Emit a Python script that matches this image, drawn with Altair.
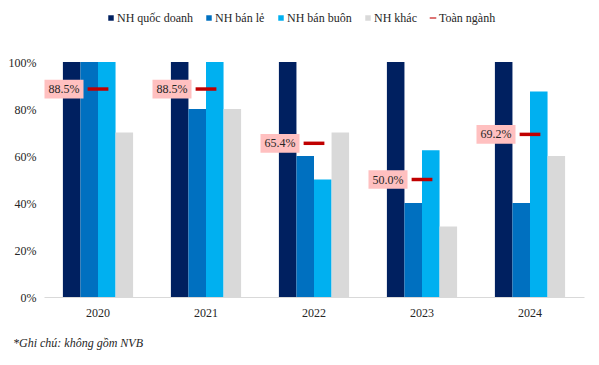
import altair as alt
import pandas as pd

years = ["2020", "2021", "2022", "2023", "2024"]
series = ["NH quốc doanh", "NH bán lẻ", "NH bán buôn", "NH khác"]
qd = [100, 100, 100, 100, 100]
bl = [100, 80, 60, 40, 40]
bb = [100, 100, 50, 62.5, 87.5]
khac = [70, 80, 70, 30, 60]
nganh = [88.5, 88.5, 65.4, 50.0, 69.2]
nganh_name = "Toàn ngành"
note = "*Ghi chú: không gồm NVB"

colors = ["#002060", "#0070C0", "#00B0F0", "#D9D9D9", "#C00000"]
all_series = series + [nganh_name]
line_path = "M-1.2,-0.2L1.2,-0.2L1.2,0.2L-1.2,0.2Z"
box_path = "M-1,-0.48L1,-0.48L1,0.48L-1,0.48Z"
FONT = "Liberation Serif"

rows = []
for name, vals in zip(series, [qd, bl, bb, khac]):
    for y, v in zip(years, vals):
        rows.append({"Year": y, "Series": name, "Value": v / 100})
bars_df = pd.DataFrame(rows)
line_df = pd.DataFrame({"Year": years, "Series": nganh_name,
                        "Value": [v / 100 for v in nganh],
                        "Label": [f"{v:.1f}%" for v in nganh]})

x_enc = alt.X("Year:N", sort=years, title=None,
              scale=alt.Scale(paddingInner=0.35, paddingOuter=0.175),
              axis=alt.Axis(labelAngle=0, domainColor="#D9D9D9", ticks=False,
                            labelPadding=10))
y_enc = alt.Y("Value:Q", title=None,
              scale=alt.Scale(domain=[0, 1], nice=False),
              axis=alt.Axis(format=".0%", values=[0, 0.2, 0.4, 0.6, 0.8, 1.0],
                            grid=False, domain=False, ticks=False, labelPadding=8))

color_scale = alt.Scale(domain=all_series, range=colors)
legend = alt.Legend(title=None, orient="none", direction="horizontal",
                    legendX=61, legendY=-50,
                    symbolSize=30, symbolStrokeWidth=0, columnPadding=10,
                    symbolOffset=0, labelOffset=0, labelFontSize=12,
                    labelFont=FONT, labelColor="#262626")

bars = alt.Chart(bars_df).mark_bar().encode(
    x=x_enc,
    xOffset=alt.XOffset("Series:N", sort=series,
                        scale=alt.Scale(domain=series, paddingInner=0, paddingOuter=0)),
    y=y_enc,
    color=alt.Color("Series:N", scale=color_scale, legend=legend),
)

marker = alt.Chart(line_df).mark_point(filled=True, size=300, opacity=1).encode(
    x=x_enc,
    y=y_enc,
    color=alt.Color("Series:N", scale=color_scale, legend=legend),
    shape=alt.Shape("Series:N",
                    scale=alt.Scale(domain=all_series,
                                    range=["square"] * 4 + [line_path]),
                    legend=legend),
)

box = alt.Chart(line_df).mark_point(filled=True, size=1521, opacity=1,
                                    shape=box_path, color="#FFC0C0",
                                    xOffset=-34).encode(x=x_enc, y=y_enc)

text = alt.Chart(line_df).mark_text(font=FONT, fontSize=12, color="#262626",
                                    xOffset=-34).encode(
    x=x_enc, y=y_enc, text="Label:N")

chart = alt.layer(bars, box, text, marker).properties(
    width=540, height=235,
    padding={"left": 0, "top": 4, "right": 5, "bottom": 5},
    title=alt.TitleParams(note, orient="bottom", anchor="start", frame="bounds",
                          font=FONT, fontSize=12, fontStyle="italic",
                          fontWeight="normal", color="#262626", offset=20, dx=5),
).configure_view(stroke=None).configure_axis(
    labelFont=FONT, labelFontSize=12, labelColor="#262626"
)

chart.save("out.html", embed_options={"renderer": "svg", "actions": False})
